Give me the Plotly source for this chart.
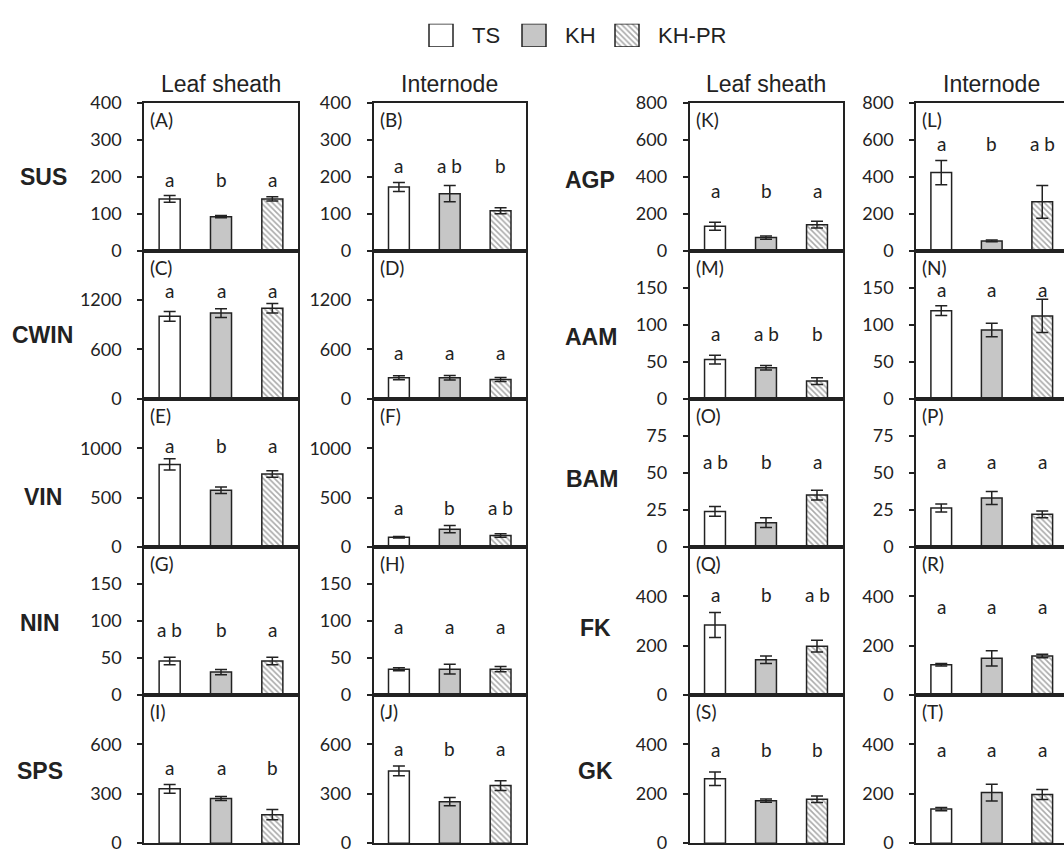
import plotly.graph_objects as go

# ---- data -------------------------------------------------------------
series = ["TS", "KH", "KH-PR"]
tissues = ["Leaf sheath", "Internode"]
left_enzymes = ["SUS", "CWIN", "VIN", "NIN", "SPS"]
right_enzymes = ["AGP", "AAM", "BAM", "FK", "GK"]
panel_tags = list("ABCDEFGHIJKLMNOPQRST")

# each enzyme: [leaf sheath values, internode values], order TS, KH, KH-PR
SUS_mean = [[140, 92, 140], [172, 154, 108]]
SUS_se = [[9, 3, 6], [12, 22, 8]]
SUS_sig = [["a", "b", "a"], ["a", "a b", "b"]]

CWIN_mean = [[1003, 1042, 1101], [256, 256, 236]]
CWIN_se = [[59, 53, 59], [24, 28, 24]]
CWIN_sig = [["a", "a", "a"], ["a", "a", "a"]]

VIN_mean = [[836, 574, 738], [98, 180, 115]]
VIN_se = [[57, 33, 33], [8, 36, 18]]
VIN_sig = [["a", "b", "a"], ["a", "b", "a b"]]

NIN_mean = [[46, 31, 46], [35, 35, 35]]
NIN_se = [[5, 3.5, 5], [2, 6.6, 3.5]]
NIN_sig = [["a b", "b", "a"], ["a", "a", "a"]]

SPS_mean = [[330, 271, 173], [439, 252, 350]]
SPS_se = [[26, 12, 31], [30, 25, 30]]
SPS_sig = [["a", "a", "b"], ["a", "b", "a"]]

AGP_mean = [[132, 71, 141], [422, 53, 264]]
AGP_se = [[22, 9, 18], [66, 5, 88]]
AGP_sig = [["a", "b", "a"], ["a", "b", "a b"]]

AAM_mean = [[53, 42, 24], [119, 93, 112]]
AAM_se = [[6, 3, 4.5], [6.6, 9, 22.5]]
AAM_sig = [["a", "a b", "b"], ["a", "a", "a"]]

BAM_mean = [[24, 16.4, 35], [26.3, 33, 22]]
BAM_se = [[3.3, 3.3, 3.3], [2.7, 4.4, 2.2]]
BAM_sig = [["a b", "b", "a"], ["a", "a", "a"]]

FK_mean = [[284, 143, 198], [123, 149, 158]]
FK_se = [[51, 15, 24], [5, 31, 7]]
FK_sig = [["a", "b", "a b"], ["a", "a", "a"]]

GK_mean = [[261, 172, 178], [138, 205, 197]]
GK_se = [[27, 6.5, 13], [6.5, 34, 20]]
GK_sig = [["a", "b", "b"], ["a", "a", "a"]]

# y-axis scale of each enzyme row
y_max = {"SUS": 400, "CWIN": 1800, "VIN": 1500, "NIN": 200, "SPS": 900,
         "AGP": 800, "AAM": 200, "BAM": 100, "FK": 600, "GK": 600}
y_ticks = {"SUS": [0, 100, 200, 300, 400], "CWIN": [0, 600, 1200],
           "VIN": [0, 500, 1000], "NIN": [0, 50, 100, 150], "SPS": [0, 300, 600],
           "AGP": [0, 200, 400, 600, 800], "AAM": [0, 50, 100, 150],
           "BAM": [0, 25, 50, 75], "FK": [0, 200, 400], "GK": [0, 200, 400]}

# ---- layout settings ----------------------------------------------------
W, H = 1064, 860
col_px = [(144, 298), (373.5, 526), (689.5, 842.5), (916, 1064)]
unit_px = [None, None, None, 50.5]        # last column runs past the page edge
row_top0, row_h = 93, 152
# height (data units) at which significance letters sit, [leaf, internode]
letter_level = {"SUS": [192, 229], "CWIN": [1318, 559], "VIN": [1026, 403],
                "NIN": [89, 93], "SPS": [462, 576], "AGP": [327, 578],
                "AAM": [88, 148], "BAM": [57.7, 57.7], "FK": [409, 360],
                "GK": [380, 380]}
# row label centres in pixels (x, y)
row_label_left = [(43, 169), (42, 331), (43, 498), (40, 627), (40, 779)]
row_label_right = [(590, 172), (591, 334), (592, 479), (595, 632), (595, 779)]

table = {
    "SUS": (SUS_mean, SUS_se, SUS_sig), "CWIN": (CWIN_mean, CWIN_se, CWIN_sig),
    "VIN": (VIN_mean, VIN_se, VIN_sig), "NIN": (NIN_mean, NIN_se, NIN_sig),
    "SPS": (SPS_mean, SPS_se, SPS_sig), "AGP": (AGP_mean, AGP_se, AGP_sig),
    "AAM": (AAM_mean, AAM_se, AAM_sig), "BAM": (BAM_mean, BAM_se, BAM_sig),
    "FK": (FK_mean, FK_se, FK_sig), "GK": (GK_mean, GK_se, GK_sig),
}

INK = "#222222"
NUM_FONT = "Lato, 'Open Sans', sans-serif"
TXT_FONT = "'Liberation Sans', Arial, sans-serif"

bar_style = {
    "TS": dict(color="white", line=dict(color=INK, width=1.5)),
    "KH": dict(color="#c6c6c6", line=dict(color=INK, width=1.5)),
    "KH-PR": dict(color="white", line=dict(color=INK, width=1.5),
                  pattern=dict(shape="\\", fgcolor="#555555", bgcolor="white",
                               size=4, solidity=0.4)),
}


def px_x(x):
    return x / W


def px_y(y):
    return 1 - y / H


fig = go.Figure()
annotations = []
layout_axes = {}

for r in range(5):
    for c in range(4):
        idx = r * 4 + c + 1
        enzyme = left_enzymes[r] if c < 2 else right_enzymes[r]
        t = c % 2
        means, ses, sigs = table[enzyme]
        tag = panel_tags[(r * 2 + t) if c < 2 else (10 + r * 2 + t)]
        suffix = "" if idx == 1 else str(idx)
        xa, ya = f"x{suffix}", f"y{suffix}"
        xkey, ykey = f"xaxis{suffix}", f"yaxis{suffix}"

        for k, s in enumerate(series):
            fig.add_trace(go.Bar(
                x=[s], y=[means[t][k]], xaxis=xa, yaxis=ya, width=0.41,
                marker=bar_style[s], showlegend=False,
                error_y=dict(type="data", array=[ses[t][k]], color=INK,
                             thickness=1.5, width=6),
            ))
            annotations.append(dict(
                x=s, y=letter_level[enzyme][t], xref=xa, yref=ya,
                text=sigs[t][k], showarrow=False, xanchor="center",
                yanchor="middle",
                font=dict(family=NUM_FONT, size=19, color=INK)))

        x0, x1 = col_px[c]
        top = row_top0 + r * row_h
        bottom = top + row_h
        if unit_px[c]:
            xr = [-0.5, -0.5 + (x1 - x0) / unit_px[c]]
        else:
            xr = [-0.5, 2.5]
        layout_axes[xkey] = dict(
            domain=[px_x(x0), px_x(x1)], range=xr, anchor=ya, type="category",
            categoryorder="array", categoryarray=series,
            showticklabels=False, ticks="", showgrid=False, zeroline=False,
            showline=True, linecolor=INK, linewidth=1.5, mirror=True)
        layout_axes[ykey] = dict(
            domain=[px_y(bottom), px_y(top)], range=[0, y_max[enzyme]],
            anchor=xa, tickmode="array", tickvals=y_ticks[enzyme],
            ticks="outside", ticklen=5, tickwidth=1.5, tickcolor=INK,
            ticklabelstandoff=12,
            tickfont=dict(family=NUM_FONT, size=18, color=INK),
            showgrid=False, zeroline=False, showline=True, linecolor=INK,
            linewidth=1.5, mirror=(c < 3))

        annotations.append(dict(
            x=4 / (x1 - x0), y=1 - 17 / row_h, xref=f"{xa} domain",
            yref=f"{ya} domain", text=f"({tag})", showarrow=False,
            xanchor="left", yanchor="middle",
            font=dict(family=NUM_FONT, size=19, color=INK)))

# column headings
for c in range(4):
    x0, x1 = col_px[c]
    xc = (x0 + x1) / 2 if c < 3 else x0 + 1.5 * unit_px[3]
    annotations.append(dict(
        x=px_x(xc), y=px_y(74), xref="paper", yref="paper",
        text=tissues[c % 2], showarrow=False, xanchor="center",
        yanchor="middle", font=dict(family=TXT_FONT, size=23, color=INK)))

# enzyme row labels
for names, spots in ((left_enzymes, row_label_left), (right_enzymes, row_label_right)):
    for name, (lx, ly) in zip(names, spots):
        annotations.append(dict(
            x=px_x(lx), y=px_y(ly), xref="paper", yref="paper",
            text=f"<b>{name}</b>", showarrow=False, xanchor="center",
            yanchor="middle", font=dict(family=TXT_FONT, size=23, color=INK)))

# key along the top: one swatch per series
key_unit = 93
key_c0 = 441
kx = "x21"
key_height = 1
for s in series:
    fig.add_trace(go.Bar(
        x=[s], y=[key_height], xaxis=kx, yaxis="y21", width=24 / key_unit,
        marker=bar_style[s], showlegend=False, hoverinfo="skip"))
    annotations.append(dict(
        x=series.index(s) + 29 / key_unit, y=key_height / 2, xref=kx, yref="y21",
        text=s, showarrow=False, xanchor="left", yanchor="middle",
        font=dict(family=TXT_FONT, size=22, color=INK)))
layout_axes["xaxis21"] = dict(
    domain=[px_x(key_c0 - key_unit / 2), px_x(key_c0 + 2.5 * key_unit)],
    range=[-0.5, 2.5], type="category", categoryorder="array",
    categoryarray=series, visible=False, anchor="y21")
layout_axes["yaxis21"] = dict(domain=[px_y(36), px_y(12)], range=[0, key_height],
                              visible=False, anchor="x21")

fig.update_layout(
    width=W, height=H, margin=dict(l=0, r=0, t=0, b=0),
    paper_bgcolor="white", plot_bgcolor="rgba(0,0,0,0)",
    barmode="overlay", annotations=annotations, **layout_axes)

fig.write_html("out.html")
